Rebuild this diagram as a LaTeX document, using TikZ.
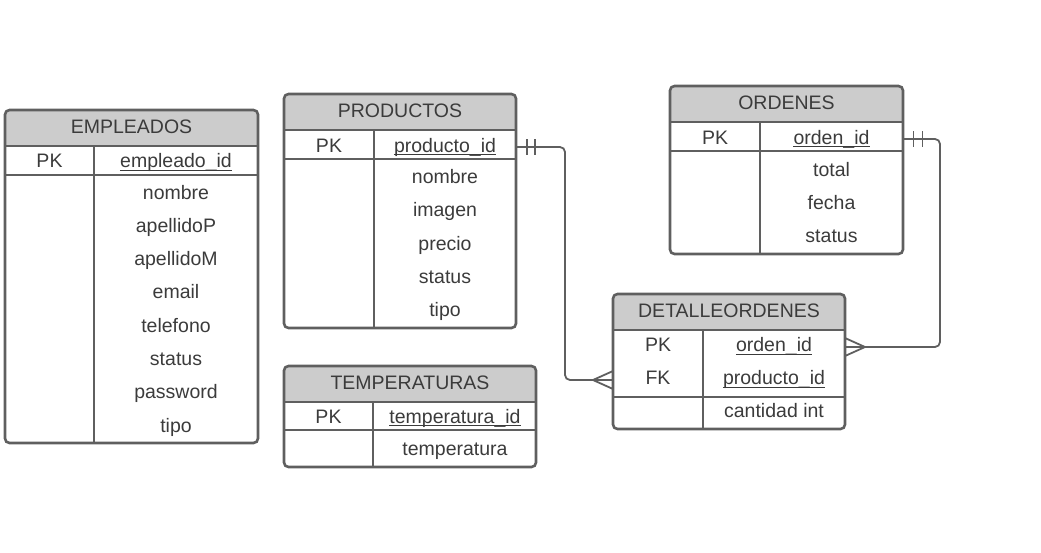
\documentclass[tikz,border=0pt]{standalone}
\usepackage{fontspec}
\setmainfont{Liberation Sans}
\definecolor{bord}{HTML}{5F5F5F}
\definecolor{hdr}{HTML}{CCCCCC}
\definecolor{txt}{HTML}{3B3B3B}
\newcommand\ertab[6]{%
  \begin{scope}
    \clip[rounded corners=4.5pt] (#1,#2) rectangle (#3,#4);
    \fill[hdr] (#1,#2) rectangle (#3,#5);
  \end{scope}
  \draw[sep] (#1,#5) -- (#3,#5);
  \draw[sep] (#6,#5) -- (#6,#4);
  \draw[frame] (#1,#2) rectangle (#3,#4);
}
\begin{document}
\begin{tikzpicture}[x=1pt,y=-1pt,
  frame/.style={draw=bord, line width=2.6pt, rounded corners=4.5pt},
  sep/.style={draw=bord, line width=2.6pt},
  lbl/.style={inner sep=0pt, text height=14pt, text depth=0pt, text=txt, font=\fontsize{19.5}{23}\selectfont},
  ul/.style={draw=txt, line width=1.2pt},
  conn/.style={draw=bord, line width=1.8pt, rounded corners=5pt},
  tick/.style={draw=bord, line width=1.8pt}
]
\useasboundingbox (0,0) rectangle (1041,552);

% ---------- EMPLEADOS
\ertab{5}{110}{258}{443}{146}{94}
\draw[sep] (5,175) -- (258,175);
\node[lbl] (emp) at (131.5,126) {EMPLEADOS};
\node[lbl] (empPK) at (49.5,160.5) {PK};
\node[lbl] (empid) at (176,160.5) {empleado\_id};
\draw[ul] ([yshift=-2.5pt]empid.south west) -- ([yshift=-2.5pt]empid.south east);
\node[lbl] (emp1) at (176,192) {nombre};
\node[lbl] (emp2) at (176,225.3) {apellidoP};
\node[lbl] (emp3) at (176,258.6) {apellidoM};
\node[lbl] (emp4) at (176,291.9) {email};
\node[lbl] (emp5) at (176,325.2) {telefono};
\node[lbl] (emp6) at (176,358.5) {status};
\node[lbl] (emp7) at (176,391.8) {password};
\node[lbl] (emp8) at (176,425.1) {tipo};

% ---------- PRODUCTOS
\ertab{284}{94}{516}{328}{130}{374}
\draw[sep] (284,159) -- (516,159);
\node[lbl] (prod) at (400,110) {PRODUCTOS};
\node[lbl] (prodPK) at (329,145) {PK};
\node[lbl] (prodid) at (445,145) {producto\_id};
\draw[ul] ([yshift=-2.5pt]prodid.south west) -- ([yshift=-2.5pt]prodid.south east);
\node[lbl] (prod1) at (445,176.5) {nombre};
\node[lbl] (prod2) at (445,209.8) {imagen};
\node[lbl] (prod3) at (445,243.1) {precio};
\node[lbl] (prod4) at (445,276.4) {status};
\node[lbl] (prod5) at (445,309.7) {tipo};

% ---------- TEMPERATURAS
\ertab{284}{366}{536}{467}{402}{373}
\draw[sep] (284,430) -- (536,430);
\node[lbl] (temp) at (410,382) {TEMPERATURAS};
\node[lbl] (tempPK) at (328.5,416) {PK};
\node[lbl] (tempid) at (455,416) {temperatura\_id};
\draw[ul] ([yshift=-2.5pt]tempid.south west) -- ([yshift=-2.5pt]tempid.south east);
\node[lbl] (temp1) at (455,448.5) {temperatura};

% ---------- ORDENES
\ertab{670}{86}{903}{254}{122}{760}
\draw[sep] (670,151) -- (903,151);
\node[lbl] (ord) at (786.5,102) {ORDENES};
\node[lbl] (ordPK) at (715,137) {PK};
\node[lbl] (ordid) at (831.5,137) {orden\_id};
\draw[ul] ([yshift=-2.5pt]ordid.south west) -- ([yshift=-2.5pt]ordid.south east);
\node[lbl] (ord1) at (831.5,169) {total};
\node[lbl] (ord2) at (831.5,202.3) {fecha};
\node[lbl] (ord3) at (831.5,235.6) {status};

% ---------- DETALLEORDENES
\ertab{613}{294}{845}{429}{330}{703}
\draw[sep] (613,397) -- (845,397);
\node[lbl] (det) at (729,310.5) {DETALLEORDENES};
\node[lbl] (detPK) at (658,344.5) {PK};
\node[lbl] (detoid) at (774,344.5) {orden\_id};
\draw[ul] ([yshift=-2.5pt]detoid.south west) -- ([yshift=-2.5pt]detoid.south east);
\node[lbl] (detFK) at (658,377.5) {FK};
\node[lbl] (detpid) at (774,377.5) {producto\_id};
\draw[ul] ([yshift=-2.5pt]detpid.south west) -- ([yshift=-2.5pt]detpid.south east);
\node[lbl] (det1) at (774,410.5) {cantidad int};

% ---------- connectors
\coordinate (c1s) at (516,147);
\coordinate (c1e) at (613,380);
\draw[conn] (c1s) -- ++(49,0) |- (c1e);
\draw[tick] ([xshift=11pt]c1s) ++(0,-8) -- ++(0,16);
\draw[tick] ([xshift=19pt]c1s) ++(0,-8) -- ++(0,16);
\draw[tick] (c1e) ++(0,-9) -- ++(-20,9) -- ++(20,9);

\coordinate (c2s) at (903,139);
\coordinate (c2e) at (845,347);
\draw[conn] (c2s) -- ++(37,0) |- (c2e);
\draw[tick] ([xshift=10.5pt]c2s) ++(0,-8) -- ++(0,16);
\draw[tick] ([xshift=19.5pt]c2s) ++(0,-8) -- ++(0,16);
\draw[tick] (c2e) ++(0,-9) -- ++(20,9) -- ++(-20,9);
\end{tikzpicture}
\end{document}
